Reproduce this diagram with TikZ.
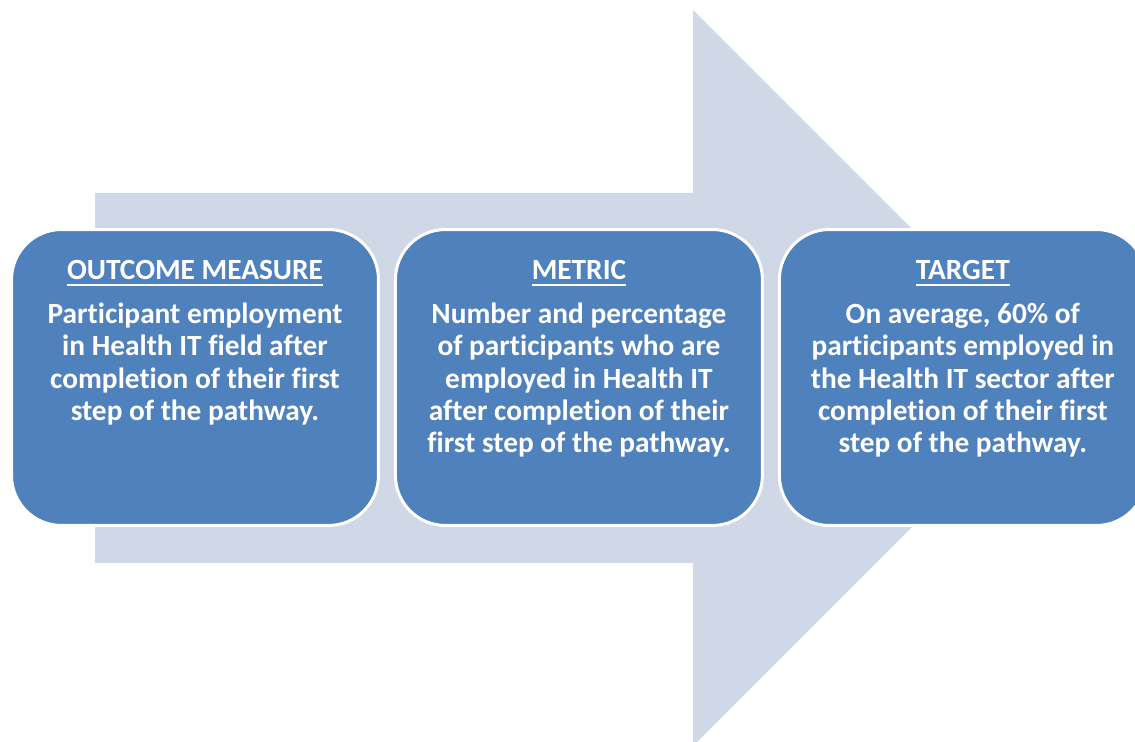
\documentclass[tikz,border=0pt]{standalone}
\usepackage{fontspec}
\setmainfont{Carlito}[Ligatures=NoCommon]
\usetikzlibrary{positioning}
\definecolor{arrowfill}{HTML}{D0D8E8}
\definecolor{boxfill}{HTML}{4F81BD}
\newcommand{\boxtitle}[1]{\leavevmode\setbox0=\hbox{#1}\rlap{\raisebox{-3.4pt}{\rule{\wd0}{1.1pt}}}\box0}

\begin{document}
\begin{tikzpicture}[x=0.02cm,y=-0.02cm]
    \clip (0,0) rectangle (1135,742);
    % Big arrow behind the boxes
    \fill[arrowfill] (95,193) -- (693,193) -- (693,10) -- (1061,378) -- (693,746) -- (693,563) -- (95,563) -- cycle;

    \begin{scope}[every node/.style={draw=white,line width=0.06cm,fill=boxfill,rounded corners=1cm,minimum width=7.34cm,minimum height=5.92cm}]
        \node (outcome) at (195,377.5) {};
        \node (metric) [right=0.28cm of outcome] {};
        \node (target) [right=0.28cm of metric] {};
    \end{scope}

    \begin{scope}[every node/.style={text=white,font=\bfseries\fontsize{16.7}{18.4}\selectfont,align=center,inner sep=0pt}]
        % Outcome measure
        \node (outcome text) [below=0.64cm of outcome.north] {\boxtitle{OUTCOME MEASURE}\\[6.5pt]
            Participant employment\\ in Health IT field after\\ completion of their first\\ step of the pathway.};

        % Metric
        \node (metric text) [below=0.64cm of metric.north] {\boxtitle{METRIC}\\[6.5pt]
            Number and percentage\\ of participants who are\\ employed in Health IT\\ after completion of their\\ first step of the pathway.};

        % Target
        \node (target text) [below=0.64cm of target.north] {\boxtitle{TARGET}\\[6.5pt]
            On average, 60\% of\\ participants employed in\\ the Health IT sector after\\ completion of their first\\ step of the pathway.};
    \end{scope}
\end{tikzpicture}
\end{document}
